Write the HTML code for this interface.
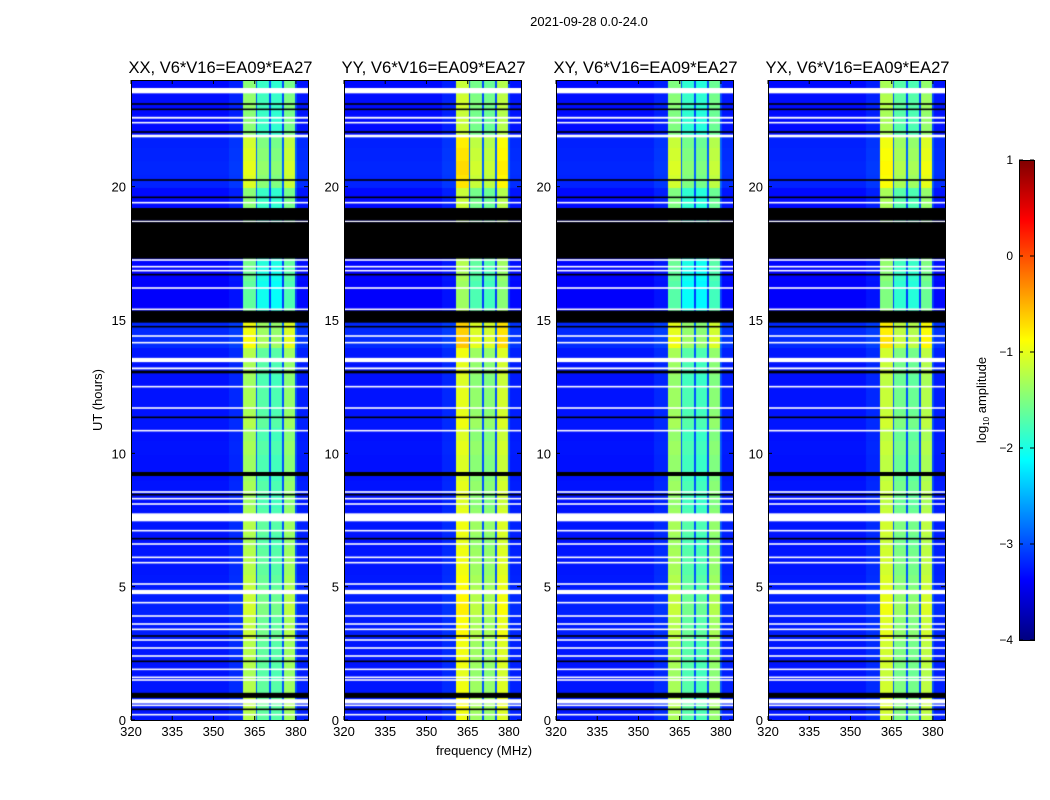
<!DOCTYPE html>
<html><head><meta charset="utf-8"><style>
body{margin:0;background:#fff;width:1050px;height:800px;overflow:hidden;font-family:"Liberation Sans","DejaVu Sans",sans-serif;}
#wrap{position:relative;width:1050px;height:800px;}
canvas{position:absolute;}
svg{position:absolute;left:0;top:0;}
</style></head><body>
<div id="wrap">
<svg id="svg" width="1050" height="800"></svg>
</div>
<script>
// ---- data ----
const panelTitles = ["XX, V6*V16=EA09*EA27","YY, V6*V16=EA09*EA27","XY, V6*V16=EA09*EA27","YX, V6*V16=EA09*EA27"];
const panelGain = [0, 0.3, -0.05, 0.15];
const freqStarts = [320, 356, 360.8, 365.5, 366.2, 370.4, 371.0, 375.2, 375.8, 379.9, 380.6];
const freqLevels = [-3.3, -3.2, -1.35, -3.0, -1.75, -3.0, -1.8, -3.0, -1.45, -3.0, -3.25];
const timeLevels = [0.1,0.15,0.1,0.05,0.1,0.1,0.2,0.15,0.25,0.2,0.15,0.1,0.1,0.05,0.1,0.05,0.0,0.05,0.0,0.0,0.05,0.0,0.1,0.05,
  0.05,0.0,0.05,0.1,0.45,0.4,-0.2,-0.3,-0.3,-0.25,-0.2,-0.2,-0.3,-0.3,-0.1,-0.1,0.3,0.35,0.3,0.25,-0.1,-0.1,-0.05,-0.1];
const whiteFlags = [[23.5,23.7],[22.55,22.62],[22.37,22.43],[21.85,21.95],[19.37,19.43],[18.67,18.73],[17.22,17.28],[16.97,17.03],[16.82,16.88],[16.17,16.23],[15.37,15.43],[14.37,14.43],[14.12,14.18],[13.42,13.58],[13.15,13.22],[12.47,12.53],[11.67,11.73],[10.82,10.88],[8.52,8.58],[8.27,8.33],[8.07,8.13],[7.45,7.75],[7.07,7.13],[6.57,6.63],[6.07,6.13],[5.87,5.93],[5.07,5.13],[4.72,4.88],[4.37,4.43],[3.87,3.93],[3.57,3.63],[3.37,3.43],[2.97,3.03],[2.67,2.73],[2.37,2.43],[1.87,1.93],[1.57,1.63],[1.47,1.53],[0.62,0.78],[0.52,0.58],[0.17,0.23]];
const blackFlags = [[23.07,23.13],[22.87,22.93],[22.02,22.08],[20.22,20.28],[19.57,19.63],[18.73,19.2],[17.3,18.67],[16.67,16.73],[14.9,15.35],[14.72,14.78],[13.0,13.1],[11.32,11.38],[9.15,9.3],[8.42,8.48],[6.77,6.83],[3.12,3.18],[2.17,2.23],[0.83,1.02],[0.37,0.43]];
const xTicks = [320,335,350,365,380];
const yTicks = [0,5,10,15,20];
const cbTicks = [-4,-3,-2,-1,0,1];

// ---- layout ----
const panelX = [131,344,556,768];
const PW = 177, PT = 80, PB = 720;
const fMin = 320, fMax = 384.4, tMin = 0, tMax = 24;
const vMin = -4, vMax = 1;
const xScale = (f,px) => px + (f - fMin) / (fMax - fMin) * PW;
const yScale = t => PB - (t - tMin) / (tMax - tMin) * (PB - PT);

function jet(v){
  let t = Math.max(0, Math.min(1, (v - vMin) / (vMax - vMin)));
  const c = x => Math.round(255*Math.max(0, Math.min(1, 1.5 - Math.abs(x))));
  return `rgb(${c(4*t-3)},${c(4*t-2)},${c(4*t-1)})`;
}

const wrap = document.getElementById('wrap');
const svg = document.getElementById('svg');
const NS = "http://www.w3.org/2000/svg";
function add(tag, attrs, text, parent){
  const e = document.createElementNS(NS, tag);
  for(const k in attrs) e.setAttribute(k, attrs[k]);
  if(text!==undefined) e.textContent = text;
  (parent||svg).appendChild(e); return e;
}

panelX.forEach((px, p) => {
  const cv = document.createElement('canvas');
  
  
  cv.width = PW; cv.height = PB-PT;
  cv.style.left = px+'px'; cv.style.top = PT+'px';
  wrap.insertBefore(cv, svg);
  const ctx = cv.getContext('2d');
  const nT = timeLevels.length;
  for(let r=0;r<nT;r++){
    const t0 = r*(tMax/nT), t1 = (r+1)*(tMax/nT);
    const y0 = yScale(t1)-PT, y1 = yScale(t0)-PT;
    for(let i=0;i<freqStarts.length;i++){
      const f0 = freqStarts[i], f1 = i+1<freqStarts.length ? freqStarts[i+1] : fMax;
      const inBand = freqLevels[i] > -2.5;
      const v = freqLevels[i] + (inBand ? timeLevels[r] + panelGain[p] : timeLevels[r]*0.3);
      ctx.fillStyle = jet(v);
      const x0 = xScale(f0,0), x1 = xScale(f1,0);
      ctx.fillRect(Math.floor(x0), Math.floor(y0), Math.ceil(x1-x0)+1, Math.ceil(y1-y0)+1);
    }
  }
  ctx.fillStyle = '#fff';
  whiteFlags.forEach(([a,b]) => { const ya=yScale(b)-PT, yb=yScale(a)-PT; ctx.fillRect(0, ya, PW, Math.max(1.5, yb-ya)); });
  ctx.fillStyle = '#000';
  blackFlags.forEach(([a,b]) => { const ya=yScale(b)-PT, yb=yScale(a)-PT; ctx.fillRect(0, ya, PW, Math.max(1.5, yb-ya)); });

  const g = add('g', {});
  
  
  const fr = add('rect', {x:px+0.5, y:PT+0.5, width:PW, height:PB-PT, fill:'none', stroke:'#000', 'stroke-width':1}, undefined, g);
  
  
  const ti = add('text', {x:px+PW/2+1, y:73, 'text-anchor':'middle', 'font-size':16.5, fill:'#000', textLength:184, lengthAdjust:'spacingAndGlyphs'}, panelTitles[p], g);
  
  
  xTicks.forEach(f => {
    const x = xScale(f, px);
    add('line', {x1:x, x2:x, y1:PB, y2:PB-4, stroke:'#000'}, undefined, g);
    add('line', {x1:x, x2:x, y1:PT, y2:PT+4, stroke:'#000'}, undefined, g);
    const tl = add('text', {x:x, y:PB+16, 'text-anchor':'middle', 'font-size':13}, String(f), g);
    
    
  });
  yTicks.forEach(t => {
    const y = yScale(t);
    add('line', {x1:px, x2:px+4, y1:y, y2:y, stroke:'#000'}, undefined, g);
    add('line', {x1:px+PW, x2:px+PW-4, y1:y, y2:y, stroke:'#000'}, undefined, g);
    const tl = add('text', {x:px-5, y:y+5, 'text-anchor':'end', 'font-size':13}, String(t), g);
    
    
  });
});

const st = add('text', {x:589, y:26, 'text-anchor':'middle', 'font-size':13}, "2021-09-28 0.0-24.0");


const xl = add('text', {x:484, y:755, 'text-anchor':'middle', 'font-size':13}, "frequency (MHz)");


const yl = add('text', {x:102, y:400, 'text-anchor':'middle', 'font-size':13, transform:'rotate(-90 102 400)'}, "UT (hours)");



// colorbar
const cbX = 1019, cbW = 15, cbT = 160, cbB = 640;
const cbY = v => cbB - (v - vMin)/(vMax - vMin)*(cbB - cbT);
const cbg = add('g', {});


for(let y=cbT; y<cbB; y++){
  const v = vMin + (cbB - y - 0.5)/(cbB - cbT)*(vMax - vMin);
  add('rect', {x:cbX, y:y, width:cbW, height:1.2, fill:jet(v)}, undefined, cbg);
}
add('rect', {x:cbX+0.5, y:cbT+0.5, width:cbW, height:cbB-cbT, fill:'none', stroke:'#000'}, undefined, cbg);
cbTicks.forEach(v => {
  const y = cbY(v);
  add('line', {x1:cbX, x2:cbX+4, y1:y, y2:y, stroke:'#000'}, undefined, cbg);
  add('line', {x1:cbX+cbW, x2:cbX+cbW-4, y1:y, y2:y, stroke:'#000'}, undefined, cbg);
  const tl = add('text', {x:1013, y:y+4, 'text-anchor':'end', 'font-size':12}, v<0 ? '\u2212'+Math.abs(v) : String(v), cbg);
  
  
});
const cl = add('text', {x:986, y:400, 'text-anchor':'middle', 'font-size':13, transform:'rotate(-90 986 400)'}, undefined, cbg);


add('tspan', {}, 'log', cl);
add('tspan', {'font-size':8, dy:3}, '10', cl);
add('tspan', {dy:-3}, ' amplitude', cl);
</script>
</body></html>
